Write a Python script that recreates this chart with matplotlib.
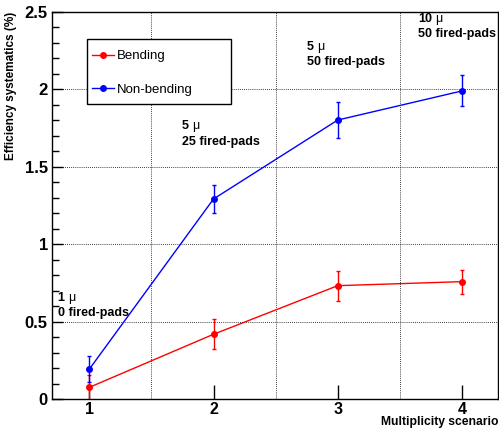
import matplotlib
matplotlib.use("Agg")
import matplotlib.pyplot as plt
from matplotlib.ticker import MultipleLocator, FixedLocator
from matplotlib.lines import Line2D
from matplotlib.patches import Rectangle

scenarios = [1, 2, 3, 4]
bending = [0.075, 0.418, 0.732, 0.758]
bending_err = [0.08, 0.097, 0.097, 0.078]
nonbending = [0.192, 1.292, 1.802, 1.99]
nonbending_err = [0.083, 0.09, 0.118, 0.1]
# (x, y_first_line, y_second_line, muons, pads text)
annotations = [
    (0.745, 0.652, 0.556, "1", "0 fired-pads"),
    (1.746, 1.764, 1.660, "5", "25 fired-pads"),
    (2.751, 2.274, 2.177, "5", "50 fired-pads"),
    (3.645, 2.455, 2.358, "10", "50 fired-pads"),
]

plt.rcParams['font.family'] = ['Liberation Sans', 'DejaVu Sans']

fig = plt.figure(figsize=(4.99, 4.28), dpi=100)
ax = fig.add_axes([0.1042, 0.0678, 0.998 - 0.1042, 0.972 - 0.0678])

RED = '#ff0000'
BLUE = '#0000ff'
ax.errorbar(scenarios, bending, yerr=bending_err, color=RED, marker='o',
            markersize=4, lw=1.0, elinewidth=1.0, capsize=1.6, capthick=1.0)
ax.errorbar(scenarios, nonbending, yerr=nonbending_err, color=BLUE, marker='o',
            markersize=4, lw=1.0, elinewidth=1.0, capsize=1.6, capthick=1.0)

ax.set_xlim(0.7, 4.29)
ax.set_ylim(0, 2.5)

ax.xaxis.set_major_locator(FixedLocator(scenarios))
ax.xaxis.set_minor_locator(FixedLocator([1.5, 2.5, 3.5]))
ax.set_yticks([0, 0.5, 1, 1.5, 2, 2.5])
ax.set_yticklabels(['0', '0.5', '1', '1.5', '2', '2.5'])
ax.yaxis.set_minor_locator(MultipleLocator(0.1))

ax.tick_params(axis='x', which='major', direction='in', length=10, width=1,
               labelsize=11.5, pad=2)
ax.tick_params(axis='x', which='minor', length=0)
ax.tick_params(axis='y', which='major', direction='in', length=8, width=1,
               labelsize=12, pad=3)
ax.tick_params(axis='y', which='minor', direction='in', length=5, width=1)
for lab in ax.get_xticklabels() + ax.get_yticklabels():
    lab.set_fontweight('bold')

ax.grid(True, which='major', axis='y', color='black', linestyle=(0, (1, 1.5)), lw=0.6)
ax.grid(True, which='minor', axis='x', color='black', linestyle=(0, (1, 1.5)), lw=0.6)
ax.set_axisbelow(True)

for sp in ax.spines.values():
    sp.set_linewidth(1.0)

ax.set_ylabel('Efficiency systematics (%)', fontsize=8.5, fontweight='bold')
ax.yaxis.set_label_coords(-0.078, 1.0)
ax.yaxis.label.set_horizontalalignment('right')
ax.set_xlabel('Multiplicity scenario', fontsize=8.7, fontweight='bold')
ax.xaxis.set_label_coords(1.0, -0.044)
ax.xaxis.label.set_horizontalalignment('right')

for x, y1, y2, n, pads in annotations:
    ax.text(x, y1, n, fontsize=9, fontweight='bold', va='center', ha='left')
    dx = 7.6 if len(n) == 1 else 12.6
    ax.annotate("\u03bc", xy=(x, y1), xytext=(dx, 0), textcoords='offset points',
                fontsize=9, fontweight='normal', va='center', ha='left')
    ax.text(x, y2, pads, fontsize=9, fontweight='bold', va='center', ha='left')

# legend box (ROOT style, asymmetric padding)
bx0 = (87 - 52) / 446.0
by1 = (399 - 39) / 387.0
bw = 144 / 446.0
bh = 65 / 387.0
ax.add_patch(Rectangle((bx0, by1 - bh), bw, bh, transform=ax.transAxes,
                       facecolor='white', edgecolor='black', lw=1.0, zorder=5))
handles = [Line2D([], [], color=RED, marker='o', markersize=4, lw=1.0),
           Line2D([], [], color=BLUE, marker='o', markersize=4, lw=1.0)]
leg = ax.legend(handles, ['Bending', 'Non-bending'], loc='upper left',
                bbox_to_anchor=((92 - 52) / 446.0, (399 - 50) / 387.0),
                fontsize=9.5, frameon=False, handlelength=1.7, borderpad=0,
                borderaxespad=0, labelspacing=1.6, handletextpad=0.2)
leg.set_zorder(6)

fig.savefig('out.png', dpi=100)
